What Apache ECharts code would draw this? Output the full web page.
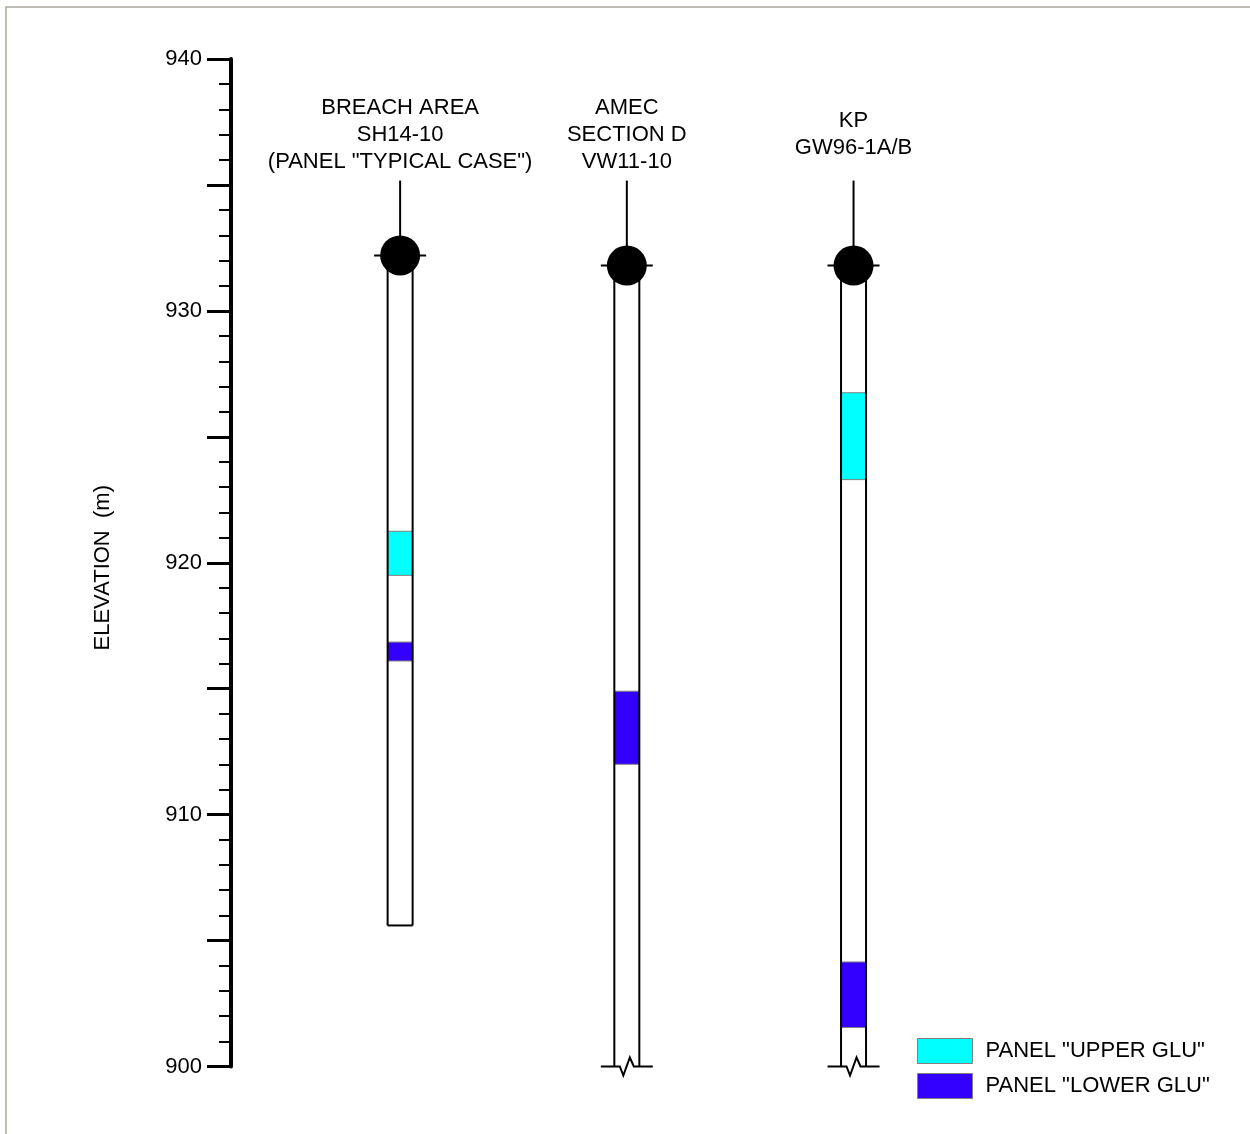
<!DOCTYPE html>
<html><head><meta charset="utf-8">
<script src="https://cdn.jsdelivr.net/npm/echarts@6/dist/echarts.min.js"></script>
<style>html,body{margin:0;padding:0;background:#fff}#c{width:1250px;height:1134px}</style>
</head><body><div id="c"></div>
<script>
// ---- data ----
const boreholes = ['BREACH AREA\nSH14-10\n(PANEL "TYPICAL CASE")', 'AMEC\nSECTION D\nVW11-10', 'KP\nGW96-1A/B'];
const boreholePos = [1, 2, 3];
const topElevation = [932.2, 931.8, 931.8];
const bottomElevation = [905.6, 900, 900];
const bottomIsBreak = [0, 1, 1];
const upperGlu = [[1, 921.25, 919.5], [3, 926.75, 923.3]];
const lowerGlu = [[1, 916.85, 916.1], [2, 914.9, 912.0], [3, 904.15, 901.55]];
const yTickLabels = [900, 910, 920, 930, 940];
const titleElevation = 937;
const seriesNames = ['PANEL "UPPER GLU"', 'PANEL "LOWER GLU"'];

const FONT = 'Liberation Sans, Arial, sans-serif';
const HALF_W = 12.5;

const wellData = boreholePos.map((p, i) => [p, topElevation[i], bottomElevation[i], bottomIsBreak[i]]);

function renderBackground(params, api) {
  const top = api.coord([api.value(0), api.value(1)]);
  const bot = api.coord([api.value(0), api.value(2)]);
  return { type: 'rect', shape: { x: top[0] - HALF_W, y: top[1], width: HALF_W * 2, height: bot[1] - top[1] },
    style: { fill: '#fff' } };
}
function makeIntervalRenderer(color) {
  return function (params, api) {
    const a = api.coord([api.value(0), api.value(1)]);
    const b = api.coord([api.value(0), api.value(2)]);
    return { type: 'rect', shape: { x: a[0] - HALF_W, y: a[1], width: HALF_W * 2, height: b[1] - a[1] },
      style: { fill: color, stroke: '#7f7f7f', lineWidth: 1 } };
  };
}
function renderOutline(params, api) {
  const x = api.value(0);
  const top = api.coord([x, api.value(1)]);
  const bot = api.coord([x, api.value(2)]);
  const title = api.coord([x, titleElevation]);
  const cx = top[0], ty = top[1], by = bot[1];
  const ls = { stroke: '#000', lineWidth: 2, fill: null };
  const children = [
    { type: 'line', shape: { x1: cx - HALF_W, y1: ty, x2: cx - HALF_W, y2: by }, style: ls },
    { type: 'line', shape: { x1: cx + HALF_W, y1: ty, x2: cx + HALF_W, y2: by }, style: ls },
    { type: 'line', shape: { x1: cx, y1: title[1] + 46, x2: cx, y2: ty - 19 }, style: ls },
    { type: 'circle', shape: { cx: cx, cy: ty, r: 20 }, style: { fill: '#000' } },
    { type: 'line', shape: { x1: cx - 26, y1: ty, x2: cx + 26, y2: ty }, style: ls },
    { type: 'text', style: { x: cx, y: title[1], text: boreholes[params.dataIndex], align: 'center', verticalAlign: 'middle',
      font: '22px ' + FONT, lineHeight: 27, fill: '#000' } }
  ];
  if (api.value(3)) {
    children.push({ type: 'polyline', shape: { points: [[cx - 26, by], [cx - 7, by], [cx - 3.5, by + 9], [cx + 3, by - 9], [cx + 7, by], [cx + 26, by]] }, style: ls });
  } else {
    children.push({ type: 'line', shape: { x1: cx - HALF_W, y1: by, x2: cx + HALF_W, y2: by }, style: ls });
  }
  return { type: 'group', children };
}

const chart = echarts.init(document.getElementById('c'), null, { renderer: 'canvas' });
chart.setOption({
  animation: false,
  backgroundColor: '#fff',
  graphic: [{ type: 'rect', shape: { x: 6, y: 7, width: 1300, height: 1200 }, style: { fill: null, stroke: '#aaa69e', lineWidth: 1.5 }, silent: true }],
  grid: { left: 231, top: 59, bottom: 67.5, right: 56.4 },
  xAxis: { type: 'value', min: 0.254, max: 4.5, show: false },
  yAxis: {
    type: 'value', min: 900, max: 940, interval: 5,
    axisLine: { show: true, lineStyle: { color: '#000', width: 4 } },
    axisTick: { show: true, length: 24, lineStyle: { color: '#000', width: 3 } },
    minorTick: { show: true, splitNumber: 5, length: 12, lineStyle: { color: '#000', width: 2 } },
    splitLine: { show: false },
    axisLabel: { fontSize: 22, color: '#000', fontFamily: FONT, margin: 29,
      formatter: v => yTickLabels.includes(v) ? String(v) : '' },
    name: 'ELEVATION  (m)', nameLocation: 'middle', nameGap: 117,
    nameTextStyle: { fontSize: 22, color: '#000', fontFamily: FONT, padding: [0, 10, 0, 0] }
  },
  legend: {
    orient: 'vertical', left: 917, top: 1038, padding: 0, itemWidth: 55, itemHeight: 25, itemGap: 9,
    icon: 'rect', selectedMode: false, data: seriesNames,
    itemStyle: { borderColor: '#7f7f7f', borderWidth: 1 },
    textStyle: { fontSize: 22, color: '#000', fontFamily: FONT, padding: [0, 0, 0, 8] }
  },
  series: [
    { type: 'custom', name: 'wells', z: 1, renderItem: renderBackground, data: wellData, encode: { x: 0, y: [1, 2] }, silent: true },
    { type: 'custom', name: seriesNames[0], z: 2, itemStyle: { color: '#00ffff' }, renderItem: makeIntervalRenderer('#00ffff'), data: upperGlu, encode: { x: 0, y: [1, 2] } },
    { type: 'custom', name: seriesNames[1], z: 2, itemStyle: { color: '#3300ff' }, renderItem: makeIntervalRenderer('#3300ff'), data: lowerGlu, encode: { x: 0, y: [1, 2] } },
    { type: 'custom', name: 'outline', z: 3, renderItem: renderOutline, data: wellData, encode: { x: 0, y: [1, 2] }, silent: true, clip: false }
  ]
});
</script></body></html>
